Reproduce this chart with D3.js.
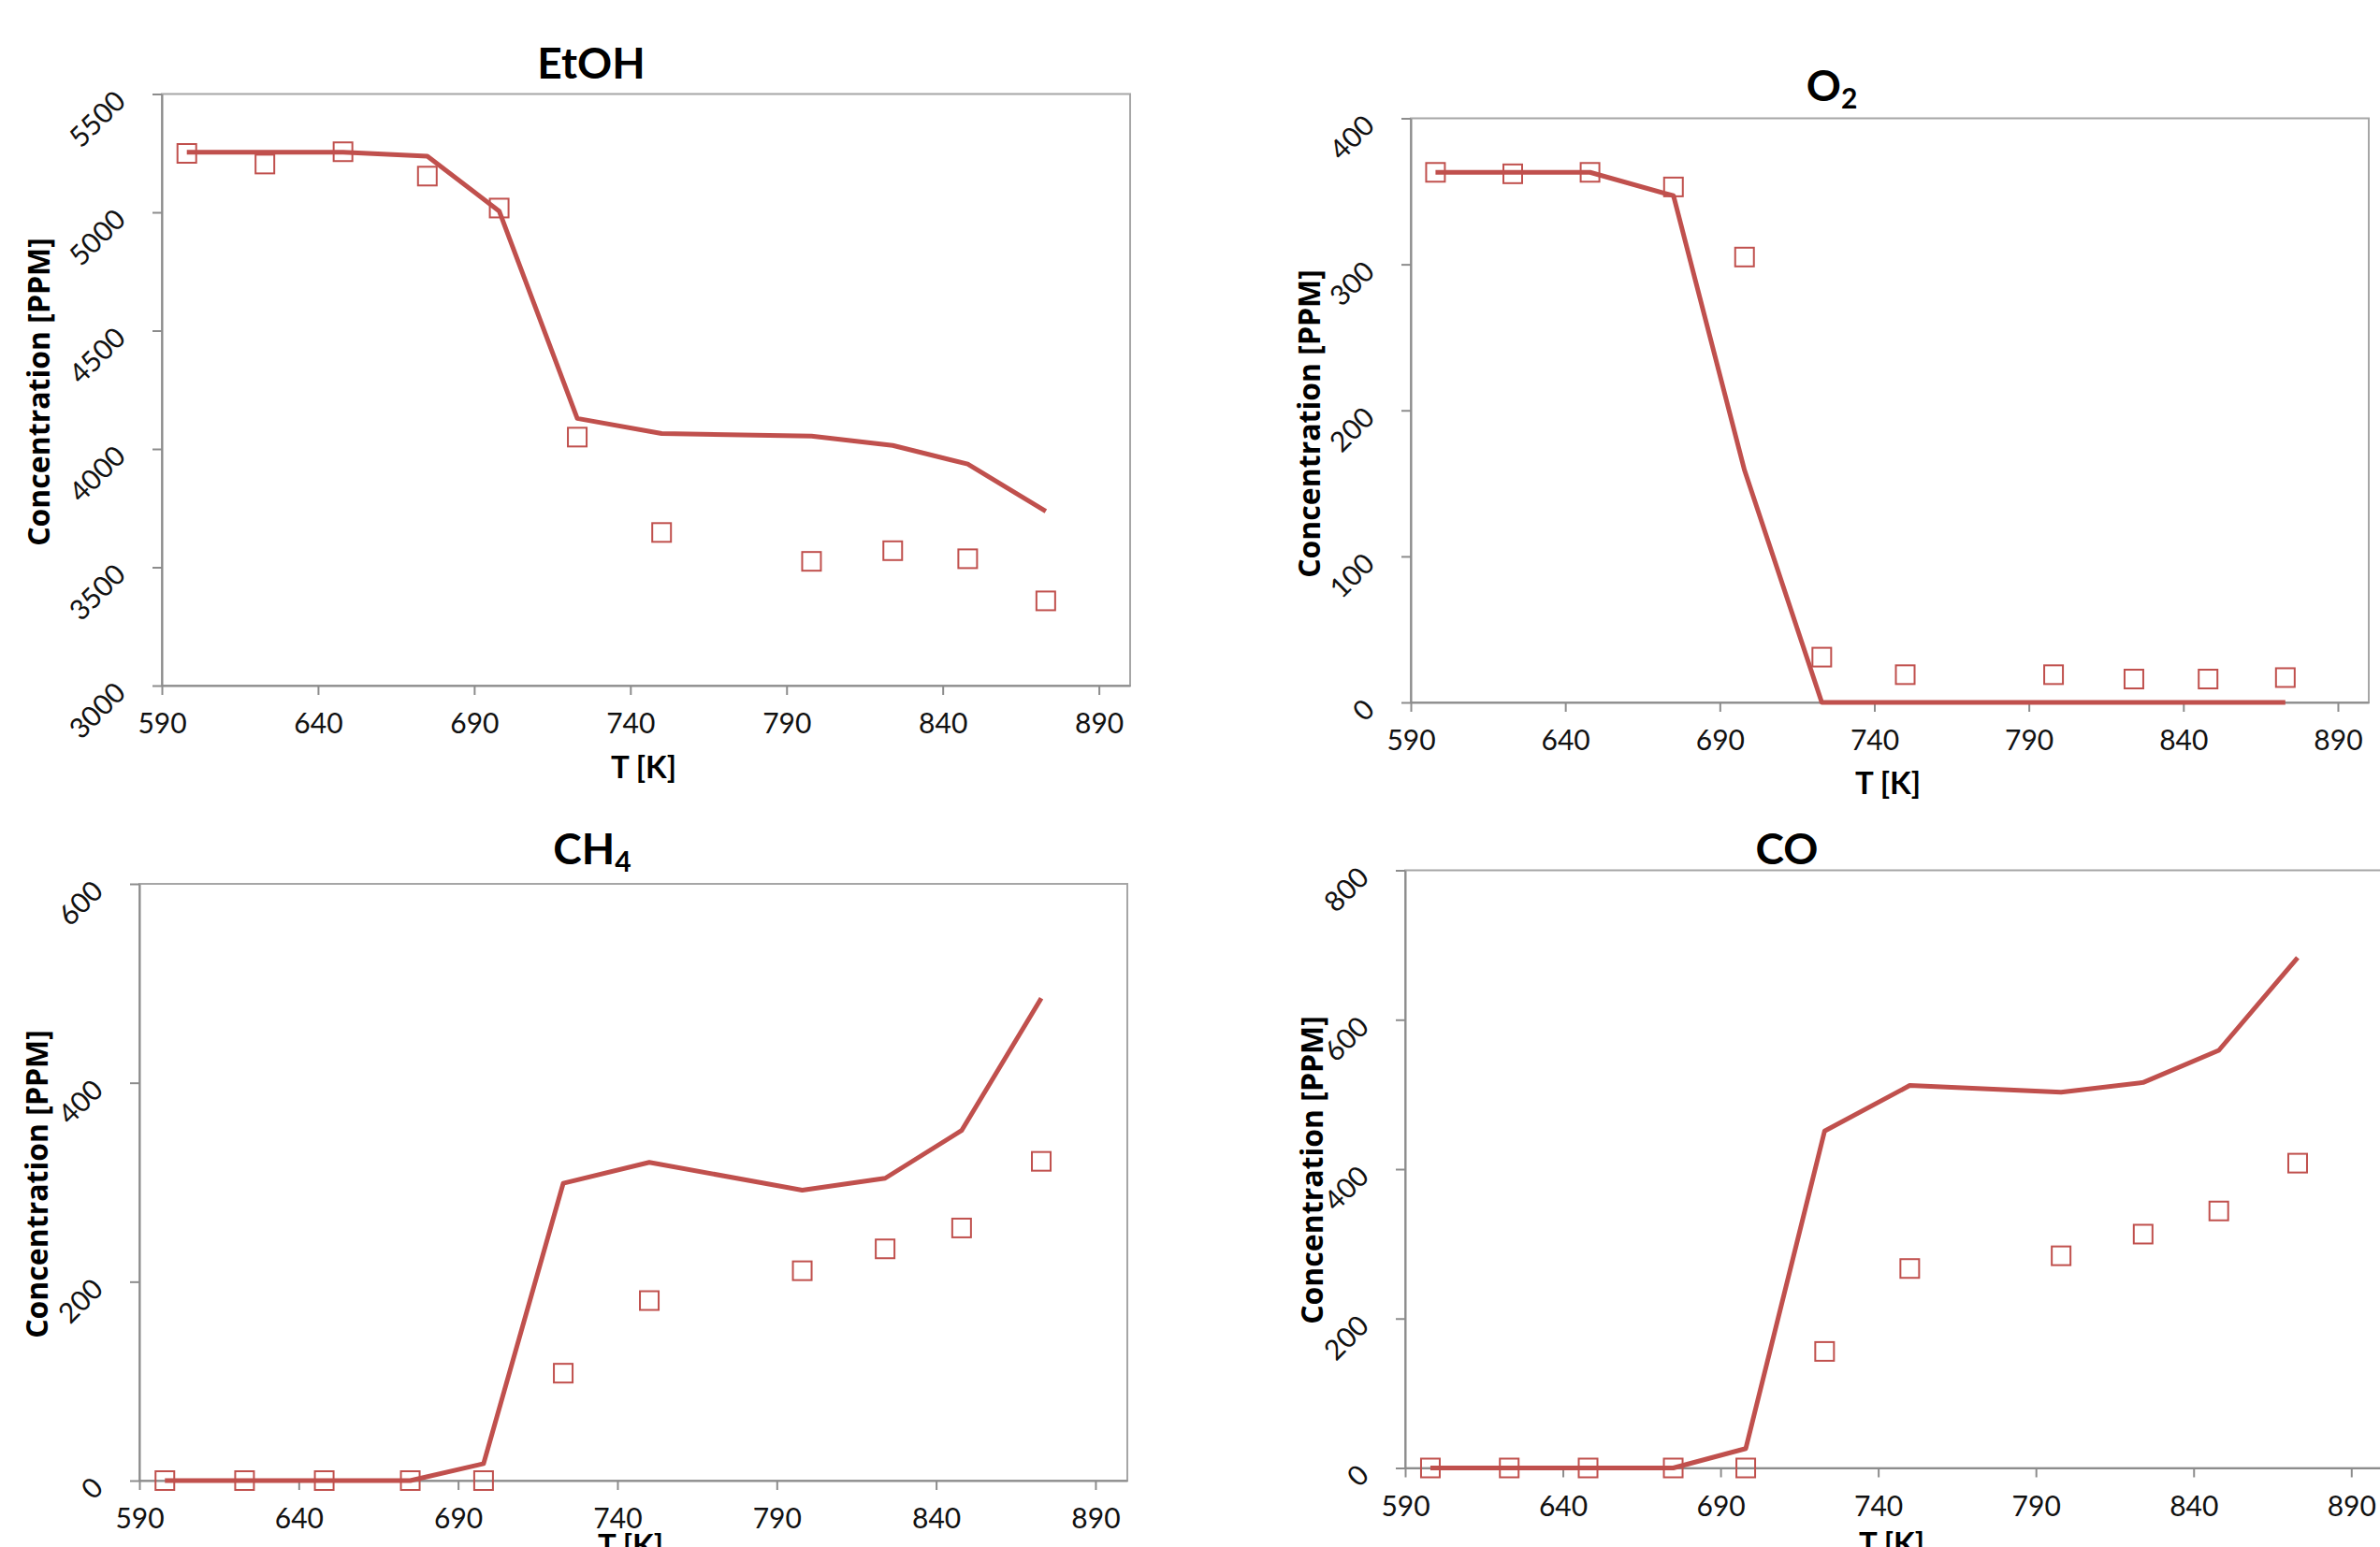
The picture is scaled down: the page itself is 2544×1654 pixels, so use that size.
<!DOCTYPE html>
<html>
<head>
<meta charset="utf-8">
<script src="https://cdn.jsdelivr.net/npm/d3@7"></script>
<style>
  html, body { margin: 0; padding: 0; background: #fff; }
  svg { display: block; }
</style>
</head>
<body>
<svg id="chart" width="2544" height="1654"></svg>
<script>
// temperatures [K], shared by all four panels
const temps = [598, 623, 648, 675, 698, 723, 750, 798, 824, 848, 873];

// model (line) and experiment (squares), ppm
const etohModel = [5254, 5254, 5254, 5237, 5005, 4129, 4065, 4054, 4015, 3936, 3737];
const etohExp   = [5249, 5204, 5256, 5153, 5018, 4050, 3647, 3525, 3570, 3536, 3358];
const o2Model   = [363, 363, 363, 347, 159, 0, 0, 0, 0, 0, 0];
const o2Exp     = [363, 362, 363, 353, 305, 31, 19, 19, 16, 16, 17];
const ch4Model  = [0, 0, 0, 0, 17, 299, 320, 292, 304, 352, 485];
const ch4Exp    = [0, 0, 0, 0, 0, 108, 181, 211, 233, 254, 321];
const coModel   = [0, 0, 0, 0, 26, 451, 512, 503, 516, 559, 683];
const coExp     = [0, 0, 0, 0, 0, 156, 267, 284, 313, 344, 408];

const xTicks = [590, 640, 690, 740, 790, 840, 890];
const etohTicks = [3000, 3500, 4000, 4500, 5000, 5500];
const o2Ticks = [0, 100, 200, 300, 400];
const ch4Ticks = [0, 200, 400, 600];
const coTicks = [0, 200, 400, 600, 800];

const red = '#c0504d';
const svg = d3.select('#chart');
svg.append('rect').attr('width', 2544).attr('height', 1654).attr('fill', '#fff');

const panels = [
  { title: 'EtOH', sub: null, model: etohModel, exp: etohExp, yTicks: etohTicks,
    x0: 173, x1: 1208, y0: 100.5, y1: 733, tx: 632, ty: 84, kx: 688, ky: 832, cx: 42, cy: 419 },
  { title: 'O', sub: '2', model: o2Model, exp: o2Exp, yTicks: o2Ticks,
    x0: 1508, x1: 2532, y0: 126.5, y1: 751, tx: 1958, ty: 108, kx: 2018, ky: 849, cx: 1400, cy: 453 },
  { title: 'CH', sub: '4', model: ch4Model, exp: ch4Exp, yTicks: ch4Ticks,
    x0: 149, x1: 1205, y0: 945, y1: 1583, tx: 633, ty: 924, kx: 674, ky: 1664, cx: 40, cy: 1266 },
  { title: 'CO', sub: null, model: coModel, exp: coExp, yTicks: coTicks,
    x0: 1502, x1: 2547, y0: 930.5, y1: 1569.5, tx: 1910, ty: 924, kx: 2022, ky: 1662, cx: 1403, cy: 1251 }
];

panels.forEach(p => {
  const x = d3.scaleLinear().domain([590, 900]).range([p.x0, p.x1]);
  const y = d3.scaleLinear().domain(d3.extent(p.yTicks)).range([p.y1, p.y0]);
  const g = svg.append('g');

  // plot box
  g.append('rect')
    .attr('x', p.x0).attr('y', p.y0)
    .attr('width', p.x1 - p.x0).attr('height', p.y1 - p.y0)
    .attr('fill', 'none').attr('stroke', '#a6a6a6').attr('stroke-width', 2);

  // axes
  const xa = g.append('g').attr('transform', `translate(0,${p.y1})`)
    .call(d3.axisBottom(x).tickValues(xTicks).tickSize(10).tickSizeOuter(0).tickFormat(d3.format('d')));
  xa.select('.domain').attr('stroke', '#8c8c8c').attr('stroke-width', 2);
  xa.selectAll('.tick line').attr('stroke', '#8c8c8c').attr('stroke-width', 2);
  xa.selectAll('.tick text')
    .attr('y', 51).attr('dy', 0)
    .attr('font-family', 'Lato, sans-serif').attr('font-size', 30).attr('fill', '#111');

  const ya = g.append('g').attr('transform', `translate(${p.x0},0)`)
    .call(d3.axisLeft(y).tickValues(p.yTicks).tickSize(10).tickSizeOuter(0).tickFormat(d3.format('d')));
  ya.select('.domain').attr('stroke', '#8c8c8c').attr('stroke-width', 2);
  ya.selectAll('.tick line').attr('stroke', '#8c8c8c').attr('stroke-width', 2);
  ya.selectAll('.tick text')
    .attr('x', null).attr('dy', null)
    .attr('text-anchor', 'end')
    .attr('transform', 'translate(-37,9) rotate(-45)')
    .attr('font-family', 'Lato, sans-serif')
    .attr('font-size', 30).attr('fill', '#111');

  // model line
  const line = d3.line().x((d, i) => x(temps[i])).y(d => y(d));
  g.append('path').datum(p.model)
    .attr('d', line)
    .attr('fill', 'none').attr('stroke', red)
    .attr('stroke-width', 5).attr('stroke-linejoin', 'round');

  // experimental squares
  const s = 20;
  g.selectAll('rect.pt').data(p.exp).enter().append('rect')
    .attr('class', 'pt')
    .attr('x', (d, i) => x(temps[i]) - s / 2)
    .attr('y', d => y(d) - s / 2)
    .attr('width', s).attr('height', s)
    .attr('fill', 'none').attr('stroke', red).attr('stroke-width', 2);

  // title
  const t = g.append('text')
    .attr('x', p.tx).attr('y', p.ty)
    .attr('text-anchor', 'middle')
    .attr('font-family', 'Lato, sans-serif').attr('font-weight', 'bold')
    .attr('font-size', 46).text(p.title);
  if (p.sub) t.append('tspan').attr('font-size', 30).attr('dy', 8).text(p.sub);

  // axis titles
  g.append('text')
    .attr('x', p.kx).attr('y', p.ky)
    .attr('text-anchor', 'middle')
    .attr('font-family', 'Lato, sans-serif').attr('font-weight', 'bold')
    .attr('font-size', 33).text('T [K]');

  g.append('text')
    .attr('transform', `translate(${p.cx + 11},${p.cy}) rotate(-90)`)
    .attr('text-anchor', 'middle')
    .attr('font-family', 'Open Sans, sans-serif').attr('font-weight', 'bold')
    .attr('font-size', 32).text('Concentration [PPM]');
});
</script>
</body>
</html>
